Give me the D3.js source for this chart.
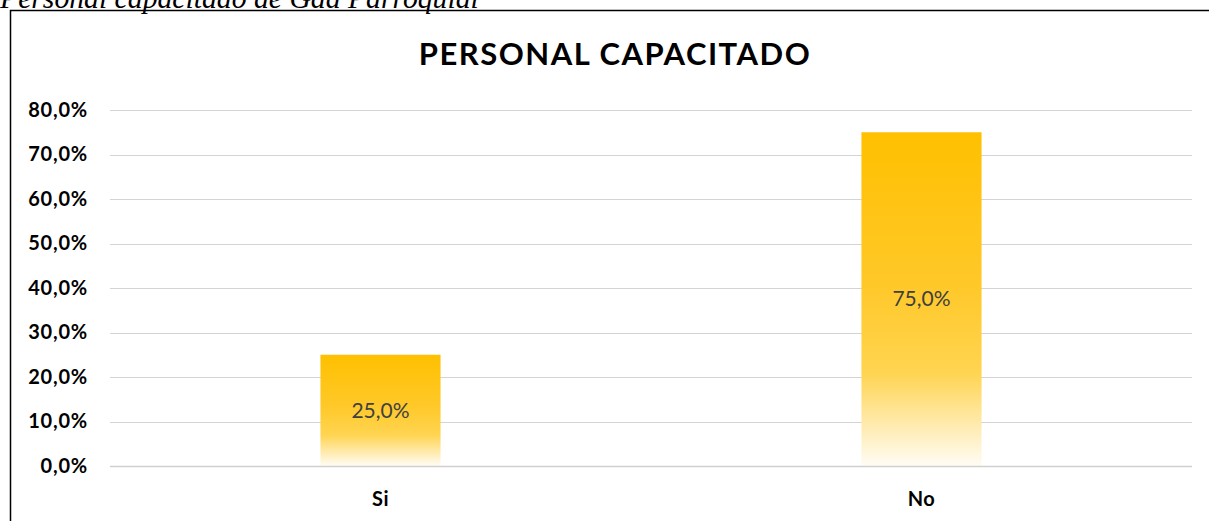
<!DOCTYPE html>
<html><head><meta charset="utf-8">
<script src="https://cdn.jsdelivr.net/npm/d3@7"></script>
<style>body{margin:0;background:#fff;} svg{display:block;}</style>
</head><body>
<svg id="c" width="1209" height="521"></svg>
<script>
const categories = ["Si", "No"];
const values = [0.25, 0.75];
const dataLabels = ["25,0%", "75,0%"];
const yTicks = [0, 0.1, 0.2, 0.3, 0.4, 0.5, 0.6, 0.7, 0.8];
const yTickLabels = ["0,0%", "10,0%", "20,0%", "30,0%", "40,0%", "50,0%", "60,0%", "70,0%", "80,0%"];
const chartTitle = "PERSONAL CAPACITADO";
const caption = "Personal capacitado de Gad Parroquial";

const svg = d3.select("#c");
const W = 1209, H = 521;
const m = {left: 110, right: 17, top: 110, bottom: 55};

// caption (cut off at top, as in the reference)
svg.append("text").attr("x", 0).attr("y", 7.5)
  .attr("font-family", "Liberation Serif, serif").attr("font-style", "italic")
  .attr("font-size", 29.7).attr("fill", "#000").text(caption);

// frame
svg.append("path").attr("d", `M${W+5},10.5 H10.5 V${H+5}`)
  .attr("fill", "none").attr("stroke", "#000").attr("stroke-width", 1.5);

const x = d3.scaleBand().domain(categories).range([m.left, W - m.right]).padding(0);
const y = d3.scaleLinear().domain([0, 0.8]).range([H - m.bottom, m.top]);

const defs = svg.append("defs");
const g = defs.append("linearGradient").attr("id", "grad").attr("x1", 0).attr("y1", 0).attr("x2", 0).attr("y2", 1);
[[0, "#FFC000"], [0.45, "#FFC828"], [0.72, "#FFD450"], [0.88, "#FFEBB0"], [1, "#FFFCF4"]]
  .forEach(([o, c]) => g.append("stop").attr("offset", o).attr("stop-color", c));

// gridlines
svg.append("g").selectAll("line").data(yTicks.slice(1)).join("line")
  .attr("x1", m.left).attr("x2", W - m.right)
  .attr("y1", d => Math.round(y(d)) + 0.5).attr("y2", d => Math.round(y(d)) + 0.5)
  .attr("stroke", "#d4d4d4").attr("stroke-width", 1);

// y axis
const yAxis = d3.axisLeft(y).tickValues(yTicks).tickFormat((d, i) => yTickLabels[i]).tickSize(0).tickPadding(22);
const ya = svg.append("g").attr("transform", `translate(${m.left},0)`).call(yAxis);
ya.select(".domain").remove();
ya.selectAll("text").attr("font-family", "Lato, Carlito, sans-serif").attr("font-weight", "bold")
  .attr("font-size", 20).attr("letter-spacing", 0.8).attr("fill", "#000");

// bars
const bw = x.bandwidth() * 0.222;
svg.append("g").selectAll("rect").data(values).join("rect")
  .attr("x", (d, i) => x(categories[i]) + x.bandwidth() / 2 - bw / 2)
  .attr("width", bw)
  .attr("y", d => y(d)).attr("height", d => y(0) - y(d))
  .attr("fill", "url(#grad)");

// x axis line
svg.append("line").attr("x1", m.left).attr("x2", W - m.right)
  .attr("y1", Math.round(y(0)) + 0.5).attr("y2", Math.round(y(0)) + 0.5)
  .attr("stroke", "#d0d0d0").attr("stroke-width", 1.5);

const xAxis = d3.axisBottom(x).tickSize(0).tickPadding(26);
const xa = svg.append("g").attr("transform", `translate(0,${y(0)})`).call(xAxis);
xa.select(".domain").remove();
xa.selectAll("text").attr("font-family", "Lato, Carlito, sans-serif").attr("font-weight", "bold")
  .attr("font-size", 20).attr("letter-spacing", 0.5).attr("fill", "#000");

// data labels
svg.append("g").selectAll("text").data(values).join("text")
  .attr("x", (d, i) => x(categories[i]) + x.bandwidth() / 2)
  .attr("y", d => (y(d) + y(0)) / 2)
  .attr("dy", "0.35em").attr("text-anchor", "middle")
  .attr("font-family", "Lato, Carlito, sans-serif").attr("font-size", 21).attr("fill", "#404040")
  .text((d, i) => dataLabels[i]);

// title
svg.append("text").attr("x", 615).attr("y", 65).attr("text-anchor", "middle")
  .attr("font-family", "Lato, Carlito, sans-serif").attr("font-weight", "bold")
  .attr("font-size", 31).attr("letter-spacing", 1.5).attr("fill", "#000").text(chartTitle);
</script>
</body></html>
